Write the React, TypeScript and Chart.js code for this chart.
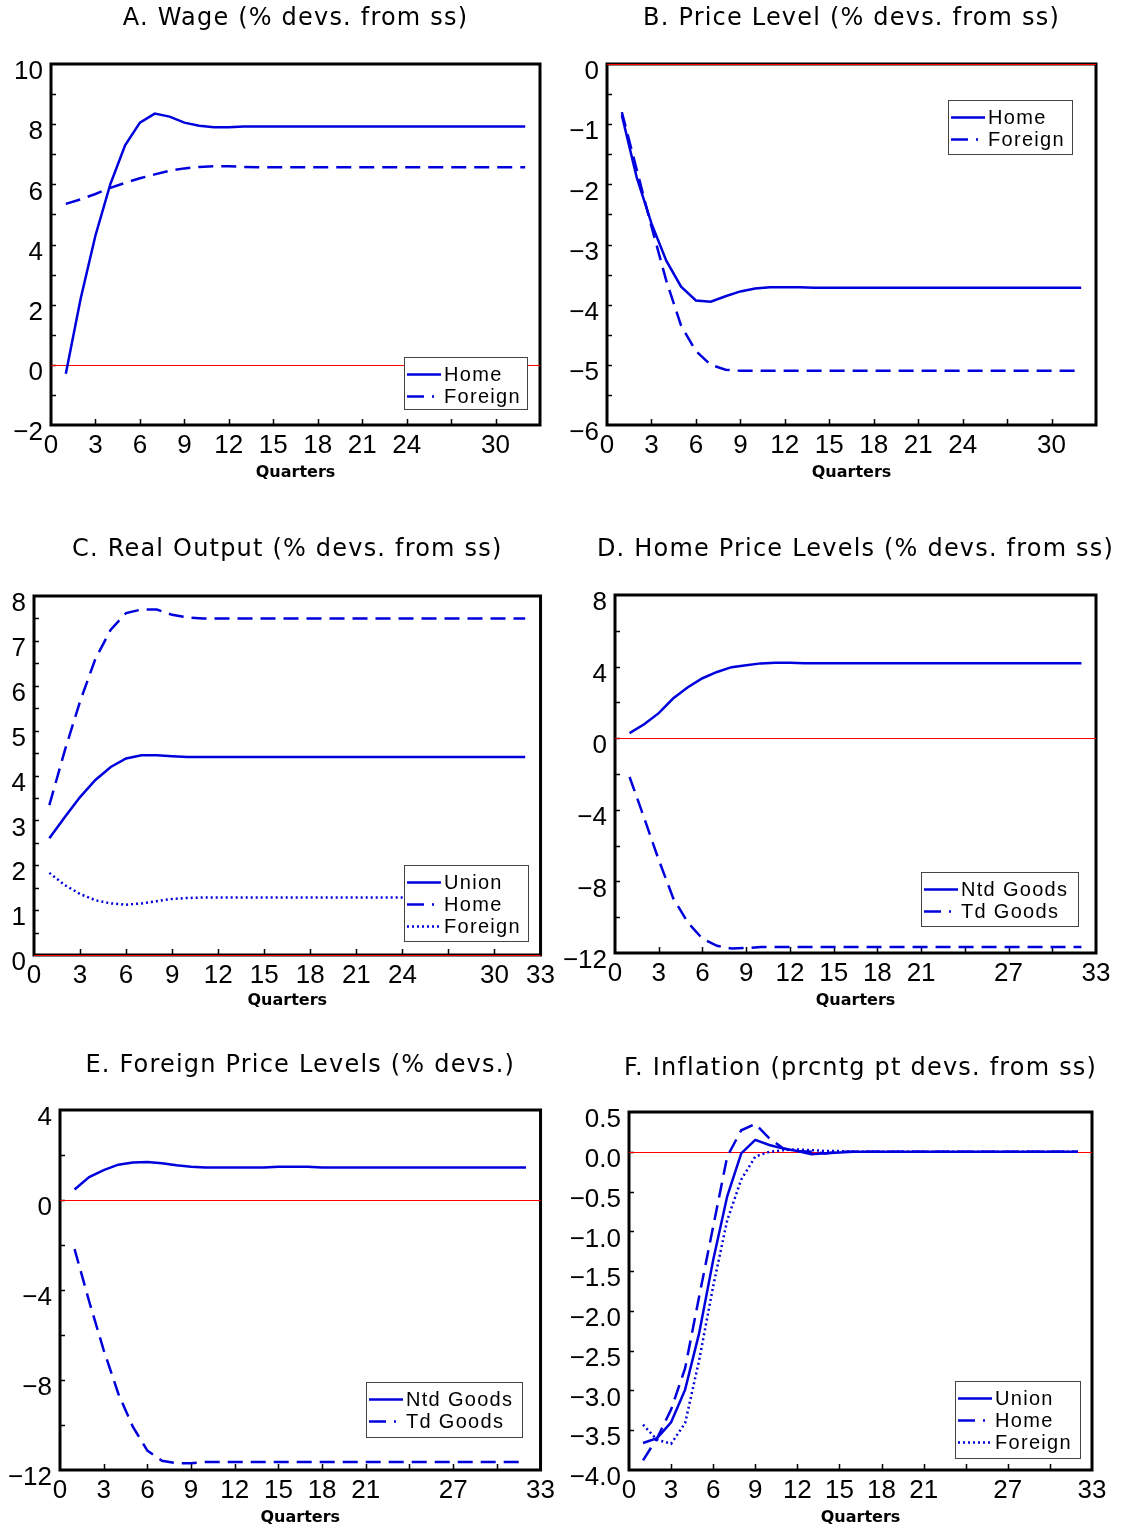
import React, { useEffect, useRef } from "react";
import { Chart, registerables } from "chart.js";

Chart.register(...registerables);

// ---------- data ----------
const QUARTERS = [1, 2, 3, 4, 5, 6, 7, 8, 9, 10, 11, 12, 13, 14, 15, 16, 17, 18, 19, 20, 21, 22, 23, 24, 25, 26, 27, 28, 29, 30, 31, 32];

const A_HOME = [-0.3, 2.2, 4.3, 6.0, 7.3, 8.05, 8.35, 8.25, 8.05, 7.95, 7.9, 7.9, 7.92, 7.92, 7.92, 7.92, 7.92, 7.92, 7.92, 7.92, 7.92, 7.92, 7.92, 7.92, 7.92, 7.92, 7.92, 7.92, 7.92, 7.92, 7.92, 7.92];
const A_FOREIGN = [5.35, 5.5, 5.68, 5.88, 6.05, 6.2, 6.33, 6.45, 6.53, 6.58, 6.6, 6.6, 6.58, 6.57, 6.57, 6.57, 6.57, 6.57, 6.57, 6.57, 6.57, 6.57, 6.57, 6.57, 6.57, 6.57, 6.57, 6.57, 6.57, 6.57, 6.57, 6.57];

const B_HOME = [-0.85, -1.88, -2.65, -3.27, -3.7, -3.93, -3.95, -3.86, -3.78, -3.73, -3.71, -3.71, -3.71, -3.72, -3.72, -3.72, -3.72, -3.72, -3.72, -3.72, -3.72, -3.72, -3.72, -3.72, -3.72, -3.72, -3.72, -3.72, -3.72, -3.72, -3.72, -3.72];
const B_FOREIGN = [-0.8, -1.75, -2.7, -3.6, -4.35, -4.77, -5.0, -5.08, -5.1, -5.1, -5.1, -5.1, -5.1, -5.1, -5.1, -5.1, -5.1, -5.1, -5.1, -5.1, -5.1, -5.1, -5.1, -5.1, -5.1, -5.1, -5.1, -5.1, -5.1, -5.1, -5.1, -5.1];

const C_UNION = [2.6, 3.07, 3.52, 3.9, 4.19, 4.38, 4.45, 4.45, 4.43, 4.41, 4.41, 4.41, 4.41, 4.41, 4.41, 4.41, 4.41, 4.41, 4.41, 4.41, 4.41, 4.41, 4.41, 4.41, 4.41, 4.41, 4.41, 4.41, 4.41, 4.41, 4.41, 4.41];
const C_HOME = [3.34, 4.55, 5.65, 6.6, 7.25, 7.62, 7.7, 7.7, 7.58, 7.52, 7.5, 7.5, 7.5, 7.5, 7.5, 7.5, 7.5, 7.5, 7.5, 7.5, 7.5, 7.5, 7.5, 7.5, 7.5, 7.5, 7.5, 7.5, 7.5, 7.5, 7.5, 7.5];
const C_FOREIGN = [1.83, 1.56, 1.36, 1.22, 1.15, 1.12, 1.15, 1.2, 1.25, 1.27, 1.28, 1.28, 1.28, 1.28, 1.28, 1.28, 1.28, 1.28, 1.28, 1.28, 1.28, 1.28, 1.28, 1.28, 1.28, 1.28, 1.28, 1.28, 1.28, 1.28, 1.28, 1.28];

const D_NTD = [0.28, 0.78, 1.4, 2.23, 2.85, 3.35, 3.7, 3.97, 4.08, 4.18, 4.22, 4.22, 4.19, 4.19, 4.19, 4.19, 4.19, 4.19, 4.19, 4.19, 4.19, 4.19, 4.19, 4.19, 4.19, 4.19, 4.19, 4.19, 4.19, 4.19, 4.19, 4.19];
const D_TD = [-2.17, -4.45, -6.8, -8.95, -10.3, -11.2, -11.6, -11.75, -11.72, -11.67, -11.67, -11.67, -11.67, -11.67, -11.67, -11.67, -11.67, -11.67, -11.67, -11.67, -11.67, -11.67, -11.67, -11.67, -11.67, -11.67, -11.67, -11.67, -11.67, -11.67, -11.67, -11.67];

const E_NTD = [0.47, 1.02, 1.33, 1.57, 1.67, 1.69, 1.63, 1.54, 1.48, 1.45, 1.45, 1.45, 1.45, 1.45, 1.48, 1.48, 1.48, 1.45, 1.45, 1.45, 1.45, 1.45, 1.45, 1.45, 1.45, 1.45, 1.45, 1.45, 1.45, 1.45, 1.45, 1.45];
const E_TD = [-2.18, -4.5, -6.67, -8.6, -10.07, -11.14, -11.59, -11.7, -11.7, -11.64, -11.64, -11.64, -11.64, -11.64, -11.64, -11.64, -11.64, -11.64, -11.64, -11.64, -11.64, -11.64, -11.64, -11.64, -11.64, -11.64, -11.64, -11.64, -11.64, -11.64, -11.64, -11.64];

const F_UNION = [-3.66, -3.6, -3.4, -2.99, -2.28, -1.36, -0.56, -0.02, 0.15, 0.085, 0.04, 0.01, -0.03, -0.02, -0.01, 0, 0, 0, 0, 0, 0, 0, 0, 0, 0, 0, 0, 0, 0, 0, 0, 0];
const F_HOME = [-3.88, -3.6, -3.24, -2.72, -1.82, -0.94, -0.06, 0.27, 0.35, 0.17, 0.04, 0.01, 0, -0.02, 0, 0, 0, 0, 0, 0, 0, 0, 0, 0, 0, 0, 0, 0, 0, 0, 0, 0];
const F_FOREIGN = [-3.43, -3.62, -3.67, -3.41, -2.62, -1.69, -0.86, -0.35, -0.06, 0.0, 0.02, 0.03, 0.02, 0.01, 0.01, 0, 0, 0, 0, 0, 0, 0, 0, 0, 0, 0, 0, 0, 0, 0, 0, 0];

const X_LABELS_AB = [0, 3, 6, 9, 12, 15, 18, 21, 24, 30];
const X_LABELS_C = [0, 3, 6, 9, 12, 15, 18, 21, 24, 30, 33];
const X_LABELS_DEF = [0, 3, 6, 9, 12, 15, 18, 21, 27, 33];

// ---------- styling / layout ----------
const BLUE = "#0000dd";
const TICK_FONT = { family: '"Liberation Sans", Arial, sans-serif', size: 26 };
const X_AXIS_H = 40;

type Series = { label: string; data: number[]; style: "solid" | "dash" | "dot" };
type PanelDef = {
  title: string;
  canvas: [number, number, number, number];
  box: [number, number, number, number];
  yW: number;
  titleY: number;
  qY: number;
  yMin: number;
  yMax: number;
  yStep: number;
  yMinor: number;
  dec: number;
  xLabels: number[];
  legend: [number, number, number, number];
  series: Series[];
};

const PANELS: PanelDef[] = [
  {
    title: "A. Wage (% devs. from ss)", canvas: [0, 0, 560, 500], box: [51, 64, 540, 425], yW: 45, titleY: 19, qY: 473,
    yMin: -2, yMax: 10, yStep: 2, yMinor: 1, dec: 0, xLabels: X_LABELS_AB, legend: [404, 357, 123, 52],
    series: [{ label: "Home", data: A_HOME, style: "solid" }, { label: "Foreign", data: A_FOREIGN, style: "dash" }],
  },
  {
    title: "B. Price Level (% devs. from ss)", canvas: [560, 0, 561, 500], box: [607, 64, 1096, 425], yW: 45, titleY: 19, qY: 473,
    yMin: -6, yMax: 0, yStep: 1, yMinor: 0.5, dec: 0, xLabels: X_LABELS_AB, legend: [948, 100, 124, 54],
    series: [{ label: "Home", data: B_HOME, style: "solid" }, { label: "Foreign", data: B_FOREIGN, style: "dash" }],
  },
  {
    title: "C. Real Output (% devs. from ss)", canvas: [0, 510, 560, 515], box: [34, 596, 541, 955], yW: 30, titleY: 550, qY: 1001,
    yMin: 0, yMax: 8, yStep: 1, yMinor: 0.5, dec: 0, xLabels: X_LABELS_C, legend: [404, 865, 124, 76],
    series: [
      { label: "Union", data: C_UNION, style: "solid" },
      { label: "Home", data: C_HOME, style: "dash" },
      { label: "Foreign", data: C_FOREIGN, style: "dot" },
    ],
  },
  {
    title: "D. Home Price Levels (% devs. from ss)", canvas: [560, 510, 561, 515], box: [615, 595, 1096, 953], yW: 55, titleY: 550, qY: 1001,
    yMin: -12, yMax: 8, yStep: 4, yMinor: 2, dec: 0, xLabels: X_LABELS_DEF, legend: [921, 872, 157, 54],
    series: [{ label: "Ntd Goods", data: D_NTD, style: "solid" }, { label: "Td Goods", data: D_TD, style: "dash" }],
  },
  {
    title: "E. Foreign Price Levels (% devs.)", canvas: [0, 1030, 560, 500], box: [60, 1110, 541, 1470], yW: 55, titleY: 1066, qY: 1518,
    yMin: -12, yMax: 4, yStep: 4, yMinor: 2, dec: 0, xLabels: X_LABELS_DEF, legend: [366, 1382, 156, 55],
    series: [{ label: "Ntd Goods", data: E_NTD, style: "solid" }, { label: "Td Goods", data: E_TD, style: "dash" }],
  },
  {
    title: "F. Inflation (prcntg pt devs. from ss)", canvas: [560, 1030, 561, 500], box: [629, 1112, 1092, 1470], yW: 65, titleY: 1069, qY: 1518,
    yMin: -4, yMax: 0.5, yStep: 0.5, yMinor: 0.5, dec: 1, xLabels: X_LABELS_DEF, legend: [955, 1381, 125, 77],
    series: [
      { label: "Union", data: F_UNION, style: "solid" },
      { label: "Home", data: F_HOME, style: "dash" },
      { label: "Foreign", data: F_FOREIGN, style: "dot" },
    ],
  },
];

const dashFor = (s: Series["style"]) => (s === "dash" ? [15, 8] : s === "dot" ? [2, 3] : []);

function fmtY(v: number, dec: number) {
  const a = Math.abs(v).toFixed(dec);
  return (v < -1e-9 ? "\u2212" : "") + a;
}

function makeDecor(p: PanelDef) {
  const offX = p.canvas[0];
  const offY = p.canvas[1];
  return {
    id: "panelDecor",
    beforeDatasetsDraw(chart: any) {
      const { ctx, chartArea: a, scales } = chart;
      const xs = scales.x;
      const ys = scales.y;
      ctx.save();
      // frame
      ctx.strokeStyle = "#000";
      ctx.lineWidth = 3;
      ctx.setLineDash([]);
      ctx.strokeRect(a.left, a.top, a.right - a.left, a.bottom - a.top);
      // inner ticks
      ctx.lineWidth = 1.5;
      ctx.beginPath();
      for (let v = 3; v < 33; v += 3) {
        const px = Math.round(xs.getPixelForValue(v)) + 0.5;
        ctx.moveTo(px, a.bottom);
        ctx.lineTo(px, a.bottom - 6);
      }
      const n = Math.round((p.yMax - p.yMin) / p.yMinor);
      for (let i = 1; i < n; i++) {
        const v = p.yMin + i * p.yMinor;
        const py = Math.round(ys.getPixelForValue(v)) + 0.5;
        ctx.moveTo(a.left, py);
        ctx.lineTo(a.left + 5, py);
      }
      ctx.stroke();
      // zero line (crisp 1px red)
      const zy = Math.round(ys.getPixelForValue(0));
      ctx.fillStyle = "#ff0000";
      ctx.fillRect(a.left, zy, a.right - a.left, 1);
      // title & axis title
      const cx = (a.left + a.right) / 2;
      ctx.fillStyle = "#000";
      ctx.textAlign = "center";
      ctx.textBaseline = "middle";
      ctx.font = '24px "DejaVu Sans", sans-serif';
      (ctx as any).letterSpacing = "1.2px";
      ctx.fillText(p.title, cx, p.titleY - offY);
      (ctx as any).letterSpacing = "0px";
      ctx.font = 'bold 16px "DejaVu Sans", sans-serif';
      ctx.fillText("Quarters", cx, p.qY - offY);
      ctx.restore();
    },
    afterDatasetsDraw(chart: any) {
      const { ctx } = chart;
      const [lx0, ly0, lw, lh] = p.legend;
      const x = lx0 - offX;
      const y = ly0 - offY;
      ctx.save();
      ctx.fillStyle = "#fff";
      ctx.fillRect(x, y, lw, lh);
      ctx.strokeStyle = "#444";
      ctx.lineWidth = 1;
      ctx.setLineDash([]);
      ctx.strokeRect(x + 0.5, y + 0.5, lw, lh);
      p.series.forEach((s, i) => {
        const ry = y + 17.5 + i * 22;
        ctx.strokeStyle = BLUE;
        ctx.lineWidth = 2.5;
        ctx.beginPath();
        if (s.style === "solid") {
          ctx.setLineDash([]);
          ctx.moveTo(x + 3, ry);
          ctx.lineTo(x + 37, ry);
        } else if (s.style === "dash") {
          ctx.setLineDash([]);
          ctx.moveTo(x + 3, ry);
          ctx.lineTo(x + 20, ry);
          ctx.moveTo(x + 28, ry);
          ctx.lineTo(x + 30, ry);
        } else {
          ctx.setLineDash([2, 3]);
          ctx.moveTo(x + 3, ry);
          ctx.lineTo(x + 37, ry);
        }
        ctx.stroke();
        ctx.fillStyle = "#000";
        ctx.font = '20px "Liberation Sans", Arial, sans-serif';
        (ctx as any).letterSpacing = "1.3px";
        ctx.textAlign = "left";
        ctx.textBaseline = "middle";
        ctx.fillText(s.label, x + 40, ry + 1);
        (ctx as any).letterSpacing = "0px";
      });
      ctx.restore();
    },
  };
}

function Panel({ p }: { p: PanelDef }) {
  const ref = useRef<HTMLCanvasElement | null>(null);
  useEffect(() => {
    const canvas = ref.current;
    if (!canvas) return;
    const [cx, cy, cw, ch] = p.canvas;
    const [L, T, R, B] = p.box;
    const chart = new Chart(canvas, {
      type: "line",
      data: {
        datasets: p.series.map((s) => ({
          label: s.label,
          data: QUARTERS.map((q, i) => ({ x: q, y: s.data[i] })),
          borderColor: BLUE,
          borderWidth: 2.5,
          borderDash: dashFor(s.style),
          borderCapStyle: "butt" as const,
          pointRadius: 0,
          fill: false,
          tension: 0,
        })),
      },
      options: {
        animation: false,
        responsive: false,
        devicePixelRatio: 1,
        events: [],
        layout: {
          padding: {
            left: L - cx - p.yW,
            top: T - cy,
            right: cx + cw - R,
            bottom: cy + ch - B - X_AXIS_H,
          },
        },
        plugins: {
          legend: { display: false },
          title: { display: false },
          tooltip: { enabled: false },
        },
        scales: {
          x: {
            type: "linear",
            min: 0,
            max: 33,
            grid: { display: false, drawTicks: false },
            border: { display: false },
            ticks: {
              stepSize: 3,
              autoSkip: false,
              maxRotation: 0,
              padding: 5,
              color: "#000",
              font: TICK_FONT,
              callback: (v: any) => (p.xLabels.includes(Number(v)) ? String(v) : ""),
            },
            afterFit: (s: any) => {
              s.height = X_AXIS_H;
            },
          },
          y: {
            type: "linear",
            min: p.yMin,
            max: p.yMax,
            grid: { display: false, drawTicks: false },
            border: { display: false },
            ticks: {
              stepSize: p.yStep,
              padding: 8,
              labelOffset: 8,
              color: "#000",
              font: TICK_FONT,
              callback: (v: any) => fmtY(Number(v), p.dec),
            },
            afterFit: (s: any) => {
              s.width = p.yW;
            },
          },
        },
      },
      plugins: [makeDecor(p)],
    } as any);
    return () => chart.destroy();
  }, [p]);
  const [cx, cy, cw, ch] = p.canvas;
  return (
    <canvas
      ref={ref}
      width={cw}
      height={ch}
      style={{ position: "absolute", left: cx, top: cy, width: cw, height: ch }}
    />
  );
}

export default function App() {
  return (
    <div style={{ position: "absolute", left: 0, top: 0, width: 1121, height: 1530, background: "#fff", overflow: "hidden" }}>
      {PANELS.map((p, i) => (
        <Panel key={i} p={p} />
      ))}
    </div>
  );
}
